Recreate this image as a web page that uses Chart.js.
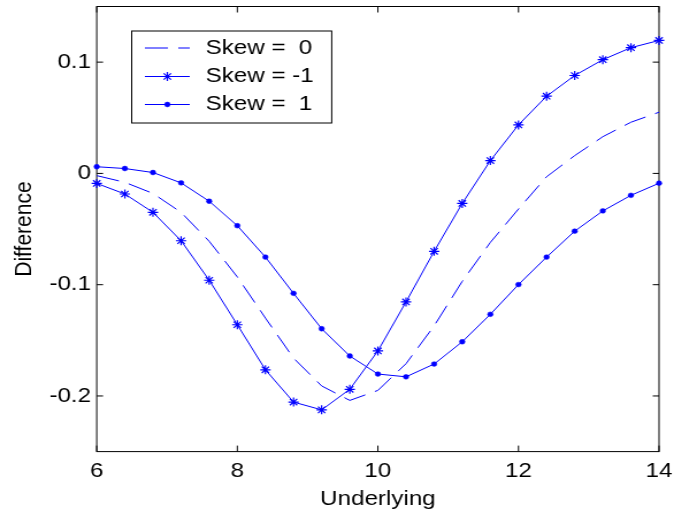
<!DOCTYPE html>
<html>
<head>
<meta charset="utf-8">
<script src="https://cdn.jsdelivr.net/npm/chart.js@4/dist/chart.umd.min.js"></script>
<style>
  html, body { margin: 0; padding: 0; background: #fff; overflow: hidden; }
  #wrap { width: 586px; height: 514px; transform: scaleX(1.150171); transform-origin: 0 0; }
  canvas { display: block; }
</style>
</head>
<body>
<div id="wrap"><canvas id="c" width="586" height="514"></canvas></div>
<script>
// Underlying price grid
const underlying = [6, 6.4, 6.8, 7.2, 7.6, 8.0, 8.4, 8.8, 9.2, 9.6, 10.0,
                    10.4, 10.8, 11.2, 11.6, 12.0, 12.4, 12.8, 13.2, 13.6, 14.0];

// Price difference for each skew setting
const diffSkew0 = [-0.002, -0.008, -0.018, -0.035, -0.061, -0.093, -0.130, -0.166, -0.191, -0.204, -0.195,
                   -0.171, -0.137, -0.097, -0.062, -0.032, -0.003, 0.016, 0.033, 0.046, 0.055];
const diffSkewNeg1 = [-0.009, -0.0185, -0.035, -0.0605, -0.096, -0.136, -0.1765, -0.2055, -0.2125, -0.194, -0.1595,
                      -0.1155, -0.070, -0.027, 0.0115, 0.0436, 0.0694, 0.088, 0.1022, 0.113, 0.1195];
const diffSkew1 = [0.006, 0.0044, 0.0008, -0.0085, -0.025, -0.047, -0.0752, -0.1078, -0.1396, -0.1641, -0.1803,
                   -0.1828, -0.1713, -0.1513, -0.1266, -0.0999, -0.0752, -0.0519, -0.0337, -0.0197, -0.0088];

const seriesLabels = ['Skew =  0', 'Skew = -1', 'Skew =  1'];

// Axis ticks
const xTicks = [6, 8, 10, 12, 14];
const xTickLabels = ['6', '8', '10', '12', '14'];
const yTicks = [-0.2, -0.1, 0, 0.1];
const yTickLabels = ['-0.2', '-0.1', '0', '0.1'];

const FONT = "'Liberation Sans', Arial, Helvetica, sans-serif";
const BLUE = '#0000ff';

function pts(ys) { return underlying.map((x, i) => ({ x: x, y: ys[i] })); }

// Boxed axes with inward tick marks on all four sides
const frameBox = {
  id: 'frameBox',
  beforeDatasetsDraw(chart) {
    const { ctx, chartArea: a, scales } = chart;
    ctx.save();
    ctx.strokeStyle = '#000';
    ctx.lineWidth = 1;
    ctx.strokeRect(a.left, a.top, a.right - a.left, a.bottom - a.top);
    ctx.beginPath();
    xTicks.forEach(v => {
      const px = scales.x.getPixelForValue(v);
      ctx.moveTo(px, a.bottom); ctx.lineTo(px, a.bottom - 6);
      ctx.moveTo(px, a.top); ctx.lineTo(px, a.top + 6);
    });
    yTicks.forEach(v => {
      const py = scales.y.getPixelForValue(v);
      ctx.moveTo(a.left, py); ctx.lineTo(a.left + 5.5, py);
      ctx.moveTo(a.right, py); ctx.lineTo(a.right - 5.5, py);
    });
    ctx.stroke();
    ctx.restore();
  }
};

// Legend box inside the plot, line sample with its marker
const boxLegend = {
  id: 'boxLegend',
  afterDraw(chart) {
    const ctx = chart.ctx;
    const L = 114.5, T = 31, R = 288.4, B = 123;
    const rows = [48, 76.5, 104.5];
    ctx.save();
    ctx.fillStyle = '#fff';
    ctx.fillRect(L, T, R - L, B - T);
    ctx.strokeStyle = '#000';
    ctx.lineWidth = 1;
    ctx.strokeRect(L, T, R - L, B - T);
    chart.data.datasets.forEach((ds, i) => {
      const y = rows[i];
      ctx.strokeStyle = ds.borderColor;
      ctx.lineWidth = ds.borderWidth;
      ctx.setLineDash(ds.borderDash || []);
      ctx.beginPath();
      ctx.moveTo(126, y); ctx.lineTo(165, y);
      ctx.stroke();
      ctx.setLineDash([]);
      if (ds.pointRadius > 0) {
        ctx.fillStyle = ds.pointBackgroundColor;
        ctx.strokeStyle = ds.pointBorderColor;
        ctx.lineWidth = ds.pointBorderWidth;
        Chart.helpers.drawPoint(ctx, { pointStyle: ds.pointStyle, rotation: 0, radius: ds.pointRadius, borderWidth: ds.pointBorderWidth }, 145.5, y);
      }
      ctx.fillStyle = '#000';
      ctx.font = '21px ' + FONT;
      ctx.textBaseline = 'middle';
      ctx.textAlign = 'left';
      ctx.fillText(ds.label, 178.7, y);
    });
    ctx.restore();
  }
};

new Chart(document.getElementById('c'), {
  type: 'line',
  data: {
    datasets: [
      {
        label: seriesLabels[0], data: pts(diffSkew0),
        borderColor: BLUE, borderWidth: 1, borderDash: [20, 9],
        pointRadius: 0, tension: 0, fill: false, clip: false
      },
      {
        label: seriesLabels[1], data: pts(diffSkewNeg1),
        borderColor: BLUE, borderWidth: 1,
        pointStyle: 'star', pointRadius: 4.5, pointBorderWidth: 1.2,
        pointBorderColor: BLUE, pointBackgroundColor: BLUE,
        tension: 0, fill: false, clip: false
      },
      {
        label: seriesLabels[2], data: pts(diffSkew1),
        borderColor: BLUE, borderWidth: 1,
        pointStyle: 'circle', pointRadius: 2.4, pointBorderWidth: 0.5,
        pointBorderColor: BLUE, pointBackgroundColor: BLUE,
        tension: 0, fill: false, clip: false
      }
    ]
  },
  options: {
    responsive: false,
    animation: false,
    devicePixelRatio: 1,
    layout: { padding: { left: 0, right: 13, top: 6.5, bottom: 0 } },
    plugins: { legend: { display: false }, tooltip: { enabled: false } },
    scales: {
      x: {
        type: 'linear', min: 6, max: 14,
        grid: { display: false, drawTicks: false },
        border: { display: false },
        afterBuildTicks(s) { s.ticks = xTicks.map(v => ({ value: v })); },
        afterFit(s) { s.height = 62.4; s.paddingLeft = 0; s.paddingRight = 0; },
        ticks: {
          padding: 7, maxRotation: 0, autoSkip: false, color: '#000',
          font: { family: FONT, size: 21 },
          callback: (v) => xTickLabels[xTicks.indexOf(v)]
        },
        title: {
          display: true, text: 'Underlying', color: '#000',
          font: { family: FONT, size: 21 }, padding: { top: 0, bottom: 2 }
        }
      },
      y: {
        type: 'linear', min: -0.25, max: 0.15,
        grid: { display: false, drawTicks: false },
        border: { display: false },
        afterBuildTicks(s) { s.ticks = yTicks.map(v => ({ value: v })); },
        afterFit(s) { s.width = 84.1; s.paddingTop = 0; s.paddingBottom = 0; },
        ticks: {
          padding: 5, autoSkip: false, color: '#000',
          font: { family: FONT, size: 21 },
          callback: (v) => yTickLabels[yTicks.findIndex(t => Math.abs(t - v) < 1e-9)]
        },
        title: {
          display: true, text: 'Difference', color: '#000',
          font: { family: FONT, size: 21 }, padding: { top: 9, bottom: 0 }
        }
      }
    }
  },
  plugins: [frameBox, boxLegend]
});
</script>
</body>
</html>
